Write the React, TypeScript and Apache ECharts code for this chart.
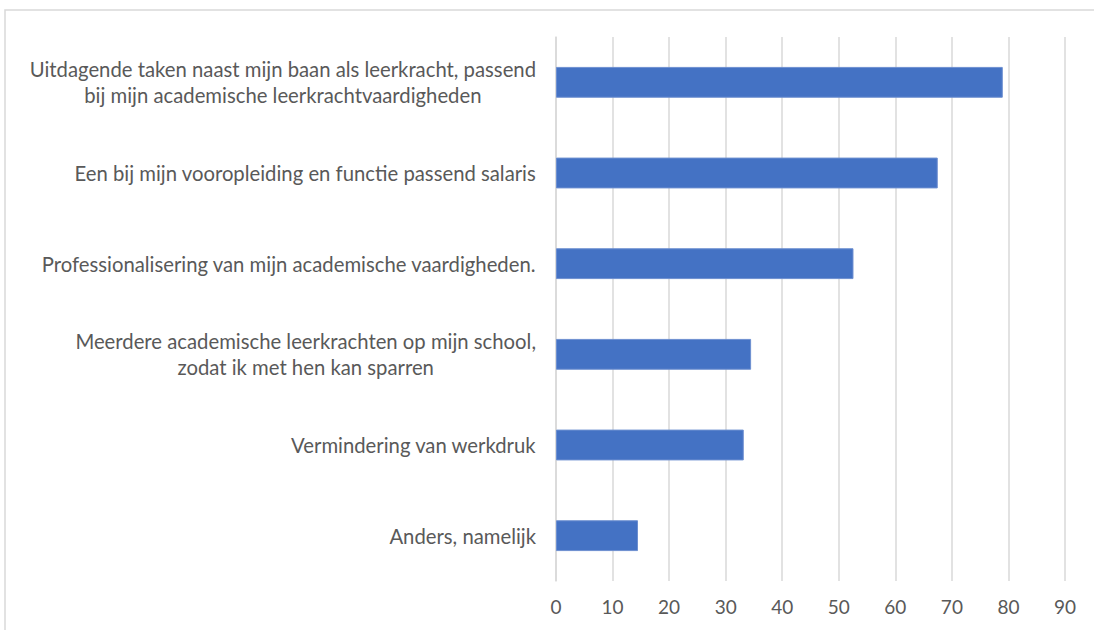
import React, { useEffect, useRef } from "react";
import * as echarts from "echarts";

const categories = [
  "Uitdagende taken naast mijn baan als leerkracht, passend\nbij mijn academische leerkrachtvaardigheden",
  "Een bij mijn vooropleiding en functie passend salaris",
  "Professionalisering van mijn academische vaardigheden.",
  "Meerdere academische leerkrachten op mijn school,\nzodat ik met hen kan sparren",
  "Vermindering van werkdruk",
  "Anders, namelijk",
];
const values = [79, 67.5, 52.6, 34.5, 33.2, 14.5];
const xMax = 90;
const xInterval = 10;

export default function App() {
  const ref = useRef<HTMLDivElement>(null);
  useEffect(() => {
    document.body.style.margin = "0";
    const chart = echarts.init(ref.current!, null, { renderer: "svg" });
    chart.setOption({
      animation: false,
      backgroundColor: "#ffffff",
      textStyle: { fontFamily: "Lato" },
      graphic: [
        {
          type: "rect",
          shape: { x: 5, y: 10, width: 1100, height: 640 },
          style: { fill: "none", stroke: "#d9d9d9", lineWidth: 1.5 },
          silent: true,
        },
      ],
      grid: { left: 556, right: 29, top: 37, bottom: 49, containLabel: false },
      xAxis: {
        type: "value",
        min: 0,
        max: xMax,
        interval: xInterval,
        axisLine: { show: false },
        axisTick: { show: false },
        splitLine: { show: true, lineStyle: { color: "#d9d9d9", width: 1.5 } },
        axisLabel: { color: "#595959", fontSize: 19, margin: 16, fontFamily: "Lato" },
      },
      yAxis: {
        type: "category",
        inverse: true,
        data: categories,
        axisLine: { show: true, lineStyle: { color: "#d9d9d9", width: 1.5 } },
        axisTick: { show: false },
        axisLabel: {
          margin: 20,
          formatter: (v: string) =>
            v
              .split("\n")
              .map((l) => "{c|" + l + "}")
              .join("\n"),
          rich: {
            c: {
              align: "center",
              color: "#595959",
              fontSize: 20.3,
              lineHeight: 26,
              fontFamily: "Lato",
            },
          },
        },
      },
      series: [
        {
          type: "bar",
          data: values,
          barWidth: "34%",
          itemStyle: { color: "#4472c4", borderColor: "#6d8fd0", borderWidth: 1 },
        },
      ],
    });
    return () => chart.dispose();
  }, []);
  return <div ref={ref} style={{ width: 1094, height: 630 }} />;
}
